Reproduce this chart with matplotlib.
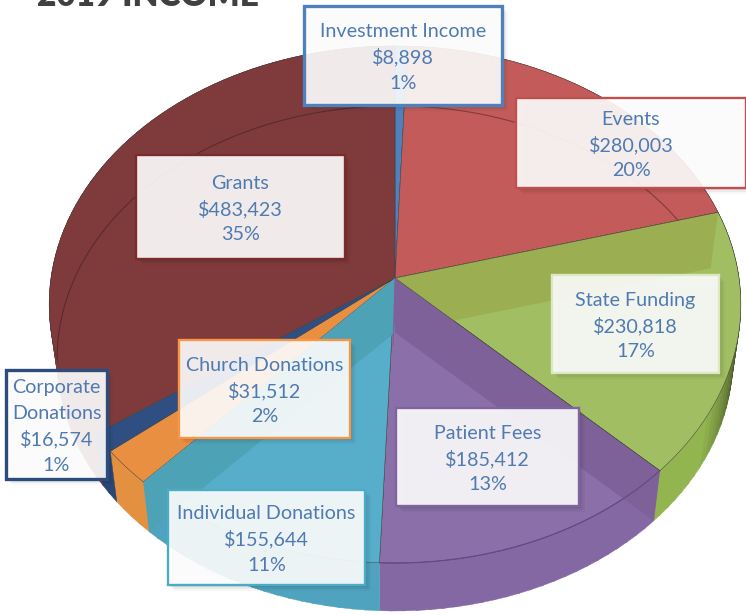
import numpy as np
import matplotlib
matplotlib.use('Agg')
import matplotlib.pyplot as plt
from matplotlib.patches import Polygon, Rectangle
from matplotlib.colors import to_rgb

title = '2019 INCOME'
# clockwise from the top of the pie
names = ['Investment Income', 'Events', 'State Funding', 'Patient Fees',
         'Individual Donations', 'Church Donations', 'Corporate\nDonations', 'Grants']
values = [8898, 280003, 230818, 185412, 155644, 31512, 16574, 483423]
pcts = [1, 20, 17, 13, 11, 2, 1, 35]

top_cols = ['#4F81BD', '#C25B59', '#A1BE62', '#8B6FA9', '#57AECB', '#E98F42', '#2F4F82', '#7F3B3B']
side_cols = ['#4F81BD', '#B85250', '#93B550', '#8468A3', '#4FA3BF', '#E39040', '#2A4674', '#7F3B3B']
edge_cols = ['#4F81BD', '#C0504D', '#DCE8C4', '#8064A2', '#4BACC6', '#F79646', '#2C4D7C', '#7A2C2C']
# internal wall seen through the slice that follows it
band_cols = {1: '#9BAF52', 2: '#7D6198', 4: '#4EA2B6'}

# label boxes: left, top, right, bottom in pixels
boxes = [(304, 6, 502, 105), (516, 98, 746, 188), (552, 275, 719, 373), (396, 408, 579, 506),
         (168, 490, 365, 585), (179, 340, 350, 438), (6, 370, 107, 479), (136, 155, 345, 259)]
line_gap = 25.7

# perspective of the disc
cx, cy = 395, 278
rx, ry, k = 344, 255.8, 0.1025
drop, shrink = 54.5, 0.977

plt.rcParams['font.family'] = ['Lato', 'DejaVu Sans']


def rim(theta, low=False):
    theta = np.radians(theta)
    d = 1 + k * np.cos(theta)
    x = rx * np.sin(theta) / d
    y = -ry * np.cos(theta) / d
    if low:
        return cx + shrink * x, cy + drop + shrink * y
    return cx + x, cy + y


def arc(a, b, low=False):
    t = np.linspace(a, b, max(int(abs(b - a) * 2), 2))
    x, y = rim(t, low)
    return np.column_stack([x, y])


fig = plt.figure(figsize=(7.46, 6.15), dpi=100)
ax = fig.add_axes([0, 0, 1, 1])
ax.set_xlim(0, 746)
ax.set_ylim(615, 0)
ax.axis('off')

ax.text(37, 6, title, fontsize=24, fontweight='heavy', color='#404040', va='baseline', ha='left')

frac = np.array(values) / sum(values)
ends = np.cumsum(frac) * 360
starts = np.r_[0, ends[:-1]]

# outer walls, in strips so that the green one can darken towards the right
for i, (a, b) in enumerate(zip(starts, ends)):
    edges = np.arange(a, b, 2.0)
    for t0 in edges:
        t1 = min(t0 + 2.4, b)
        col = np.array(to_rgb(side_cols[i]))
        if i == 2:
            col = col * np.clip(0.38 + (t0 - 98) / 36, 0.38, 1.0)
        ax.add_patch(Polygon(np.vstack([arc(t0, t1), arc(t0, t1, True)[::-1]]),
                             fc=col, ec=col, lw=0.3, zorder=2))

# top faces
faces = []
for i, (a, b) in enumerate(zip(starts, ends)):
    pts = np.vstack([[cx, cy], arc(a, b)])
    faces.append(ax.add_patch(Polygon(pts, fc=top_cols[i], ec='#3A3A3A', lw=0.35, zorder=3)))

# internal walls seen through the top
for i, col in band_cols.items():
    t = ends[i]
    quad = [(cx, cy), rim(t), rim(t, True), (cx, cy + drop)]
    ax.add_patch(Polygon(quad, fc=col, ec='none', zorder=4))

# lower rim showing through the transparent faces
for i, (a, b) in enumerate(zip(starts, ends)):
    line = arc(a, b, True)
    edge = np.array(to_rgb(side_cols[i])) * 0.72
    if i in (0, 1, 7):
        ln, = ax.plot(line[:, 0], line[:, 1], color=edge, lw=0.8, zorder=5)
        ln.set_clip_path(faces[i])
    elif i == 3:
        top = arc(a, b)
        ax.plot(top[:, 0], top[:, 1], color='#654A85', lw=0.9, zorder=5)

# slice edges drawn over the bands
for i in (1, 2):
    x, y = rim(ends[i])
    ax.plot([cx, x], [cy, y], color='#4A4A3A', lw=0.4, zorder=5)
ax.fill_betweenx([278, 345], [394, 392], [397, 393], color='#7D6198', lw=0, zorder=5)

# labels
for i, (l, t, r, b) in enumerate(boxes):
    for off, al in zip((6, 4, 2), (0.03, 0.05, 0.07)):
        ax.add_patch(Rectangle((l + off, t + off), r - l, b - t, fc='black', ec='none', alpha=al, zorder=6))
    ax.add_patch(Rectangle((l, t), r - l, b - t, fc='#FFFFFF', ec='none', alpha=0.9, zorder=7))
    lw = 2.4 if i in (0, 6) else 1.7
    ax.add_patch(Rectangle((l, t), r - l, b - t, fc='none', ec=edge_cols[i], lw=lw, zorder=8))
    s = '%s\n$%s\n%d%%' % (names[i], format(values[i], ','), pcts[i])
    lines = s.replace('$', r'\$').split('\n')
    y0 = (t + b) / 2 - line_gap * (len(lines) - 1) / 2 + 2
    for j, ln in enumerate(lines):
        ax.text((l + r) / 2, y0 + j * line_gap, ln, fontsize=14.2, color='#4F7BB2',
                ha='center', va='center', zorder=9)

fig.savefig('out.png', dpi=100)
